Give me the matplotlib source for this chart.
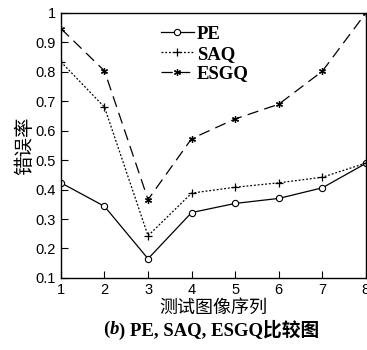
import matplotlib
matplotlib.use("Agg")
import matplotlib.pyplot as plt

# data
x = [1, 2, 3, 4, 5, 6, 7, 8]
pe = [0.423, 0.343, 0.165, 0.322, 0.353, 0.370, 0.406, 0.489]
saq = [0.834, 0.680, 0.243, 0.388, 0.408, 0.423, 0.442, 0.490]
esgq = [0.947, 0.803, 0.366, 0.573, 0.640, 0.690, 0.802, 1.0]

xticks = [1, 2, 3, 4, 5, 6, 7, 8]
yticks = [0.1, 0.2, 0.3, 0.4, 0.5, 0.6, 0.7, 0.8, 0.9, 1.0]
ytick_labels = ["0.1", "0.2", "0.3", "0.4", "0.5", "0.6", "0.7", "0.8", "0.9", "1"]

cjk = ["Noto Sans CJK SC", "DejaVu Sans"]
serif_cjk = ["Liberation Serif", "Noto Sans CJK SC"]

fig = plt.figure(figsize=(3.67, 3.5), dpi=100)
ax = fig.add_axes([0.166, 0.206, 0.831, 0.757])

ax.plot(x, pe, color="black", lw=0.9, ls="-", marker="o", ms=4.5,
        mfc="white", mec="black", mew=0.8, label="PE")
ax.plot(x, saq, color="black", lw=0.9, ls=(0, (1.5, 1.5)), marker="+", ms=6,
        mew=0.9, label="SAQ")
ax.plot(x, esgq, color="black", lw=0.9, ls=(0, (9, 5)), marker=(6, 2, 0), ms=5,
        mew=0.9, label="ESGQ")

ax.set_xlim(1, 8)
ax.set_ylim(0.1, 1.0)
ax.set_xticks(xticks)
ax.set_yticks(yticks)
ax.set_yticklabels(ytick_labels)
ax.tick_params(direction="in", length=5, width=0.8, labelsize=10.5,
               top=False, right=False)
for lab in ax.get_xticklabels() + ax.get_yticklabels():
    lab.set_family("Liberation Sans")
for s in ax.spines.values():
    s.set_linewidth(1.0)

ax.set_ylabel("错误率", family=cjk, fontsize=14, labelpad=0)
ax.set_xlabel("测试图像序列", family=cjk, fontsize=13, labelpad=1.5)

leg = ax.legend(loc="upper left", bbox_to_anchor=(0.29, 0.995), frameon=False,
                handlelength=1.8, handletextpad=0.15, labelspacing=0.15,
                borderaxespad=0.2,
                prop={"family": "Liberation Serif", "weight": "bold", "size": 13.5})

# caption: "(b)" with italic b, then the rest; pieces placed side by side
fig.canvas.draw()
renderer = fig.canvas.get_renderer()
parts = [("(", "normal"), ("b", "italic"), (") PE, SAQ, ESGQ比较图", "normal")]
texts = []
for s, style in parts:
    t = fig.text(0, 0.058, s, ha="left", va="center", fontsize=13.5,
                 weight="bold", style=style, family=serif_cjk)
    texts.append(t)
widths = [t.get_window_extent(renderer).width for t in texts]
total = sum(widths)
xpos = 211 - total / 2
for t, w in zip(texts, widths):
    t.set_x(xpos / fig.bbox.width)
    xpos += w

fig.savefig("out.png", dpi=100)
